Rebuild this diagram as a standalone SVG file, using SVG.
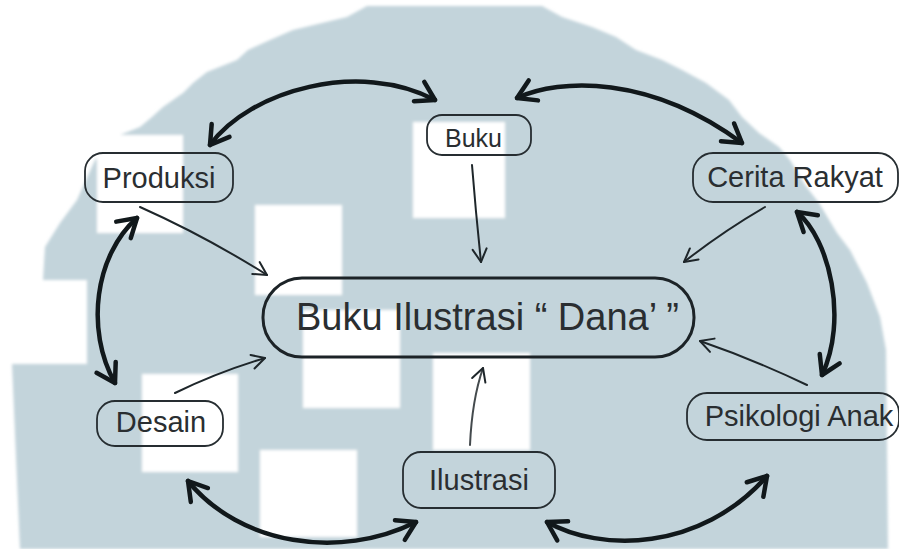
<svg xmlns="http://www.w3.org/2000/svg" width="899" height="549" viewBox="0 0 899 549">
  <style>
    .box { fill: none; stroke: #262d31; stroke-width: 1.8; }
    .main-box { fill: none; stroke: #1c2327; stroke-width: 3; }
    .lbl { font-family: "Liberation Sans", Arial, sans-serif; fill: #2a2e31; }
    .thin { fill: none; stroke: #1e262a; stroke-width: 2; stroke-linecap: round; }
    .thick { fill: none; stroke: #11181b; stroke-width: 4.5; stroke-linecap: round; }
  </style>
  <defs>
    <filter id="soft" x="-5%" y="-5%" width="110%" height="110%">
      <feGaussianBlur stdDeviation="1.6"/>
    </filter>
    <marker id="headThin" viewBox="-18 -12 22 24" markerWidth="22" markerHeight="24" refX="0" refY="0" orient="auto" markerUnits="userSpaceOnUse" overflow="visible">
      <path d="M-13,-7 L0,0 L-13,7" fill="none" stroke="#1e262a" stroke-width="2" stroke-linecap="round" stroke-linejoin="round"/>
    </marker>
    <marker id="headThick" viewBox="-26 -16 30 32" markerWidth="30" markerHeight="32" refX="0" refY="0" orient="auto-start-reverse" markerUnits="userSpaceOnUse" overflow="visible">
      <path d="M-18,-11 L0,0 L-18,11" fill="none" stroke="#11181b" stroke-width="4.5" stroke-linecap="round" stroke-linejoin="round"/>
    </marker>
  </defs>

  <!-- backdrop -->
  <rect width="899" height="549" fill="#ffffff"/>
  <g id="backdrop" filter="url(#soft)">
    <polygon fill="#c3d4db" points="367,6 542,6 562,17 592,27 616,37 636,50 662,60 682,70 706,83 729,100 742,117 759,133 779,147 790,160 805,185 819,203 837,233 850,250 867,283 880,317 886,350 888,549 20,549 12,364 87,364 87,280 43,280 45,247 60,223 77,200 95,160 120,135 140,127 152,117 163,107 183,93 193,83 207,72 237,60 248,50 270,40 293,30 347,17"/>
    <g fill="#ffffff">
      <rect x="97" y="135" width="86" height="98"/>
      <rect x="255" y="205" width="87" height="90"/>
      <rect x="413" y="122" width="92" height="96"/>
      <rect x="303" y="310" width="97" height="98"/>
      <rect x="433" y="353" width="97" height="97"/>
      <rect x="260" y="450" width="97" height="87"/>
      <rect x="142" y="374" width="96" height="98"/>
    </g>
  </g>

  <!-- connectors -->
  <g id="connectors">
    <!-- thin arrows into the central node -->
    <path class="thin" d="M140,207 Q205,236 267,275" marker-end="url(#headThin)"/>
    <path class="thin" d="M472,165 Q476,215 481,262" marker-end="url(#headThin)"/>
    <path class="thin" d="M765,207 Q722,232 684,262" marker-end="url(#headThin)"/>
    <path class="thin" d="M807,385 Q755,360 700,341" marker-end="url(#headThin)"/>
    <path class="thin" d="M175,393 Q218,372 265,358" marker-end="url(#headThin)"/>
    <path class="thin" d="M470,445 Q472,400 483,368" marker-end="url(#headThin)" style="stroke:#444a4d"/>
    <!-- thick two-way arcs around the ring -->
    <path class="thick" d="M210,145 C250,90 360,60 435,100" marker-start="url(#headThick)" marker-end="url(#headThick)"/>
    <path class="thick" d="M517,98 C560,78 650,75 742,143" marker-start="url(#headThick)" marker-end="url(#headThick)"/>
    <path class="thick" d="M797,212 C830,240 848,320 822,375" marker-start="url(#headThick)" marker-end="url(#headThick)"/>
    <path class="thick" d="M547,522 C600,552 700,552 767,476" marker-start="url(#headThick)" marker-end="url(#headThick)"/>
    <path class="thick" d="M188,481 C240,545 340,560 416,522" marker-start="url(#headThick)" marker-end="url(#headThick)"/>
    <path class="thick" d="M137,218 C95,255 85,330 115,383" marker-start="url(#headThick)" marker-end="url(#headThick)"/>
  </g>

  <!-- nodes -->
  <g id="node-main">
    <rect class="main-box" x="263" y="278" width="431" height="79" rx="39" ry="39"/>
    <text class="lbl" x="296" y="330" font-size="38">Buku Ilustrasi “ Dana’ ”</text>
  </g>
  <g id="node-produksi">
    <rect class="box" x="85" y="153" width="148" height="49" rx="18" ry="18"/>
    <text class="lbl" x="159" y="188" font-size="29" text-anchor="middle">Produksi</text>
  </g>
  <g id="node-buku">
    <rect class="box" x="427" y="115" width="104" height="40" rx="15" ry="15"/>
    <text class="lbl" x="445" y="147" font-size="25">Buku</text>
  </g>
  <g id="node-cerita">
    <rect class="box" x="693" y="153" width="205" height="49" rx="20" ry="20"/>
    <text class="lbl" x="795" y="187" font-size="29" text-anchor="middle">Cerita Rakyat</text>
  </g>
  <g id="node-psikologi">
    <rect class="box" x="687" y="393" width="212" height="47" rx="20" ry="20"/>
    <text class="lbl" x="799" y="426" font-size="29" text-anchor="middle">Psikologi Anak</text>
  </g>
  <g id="node-desain">
    <rect class="box" x="97" y="401" width="126" height="45" rx="18" ry="18"/>
    <text class="lbl" x="161" y="432" font-size="29" text-anchor="middle">Desain</text>
  </g>
  <g id="node-ilustrasi">
    <rect class="box" x="403" y="452" width="152" height="56" rx="18" ry="18"/>
    <text class="lbl" x="479" y="490" font-size="29" text-anchor="middle">Ilustrasi</text>
  </g>
</svg>
